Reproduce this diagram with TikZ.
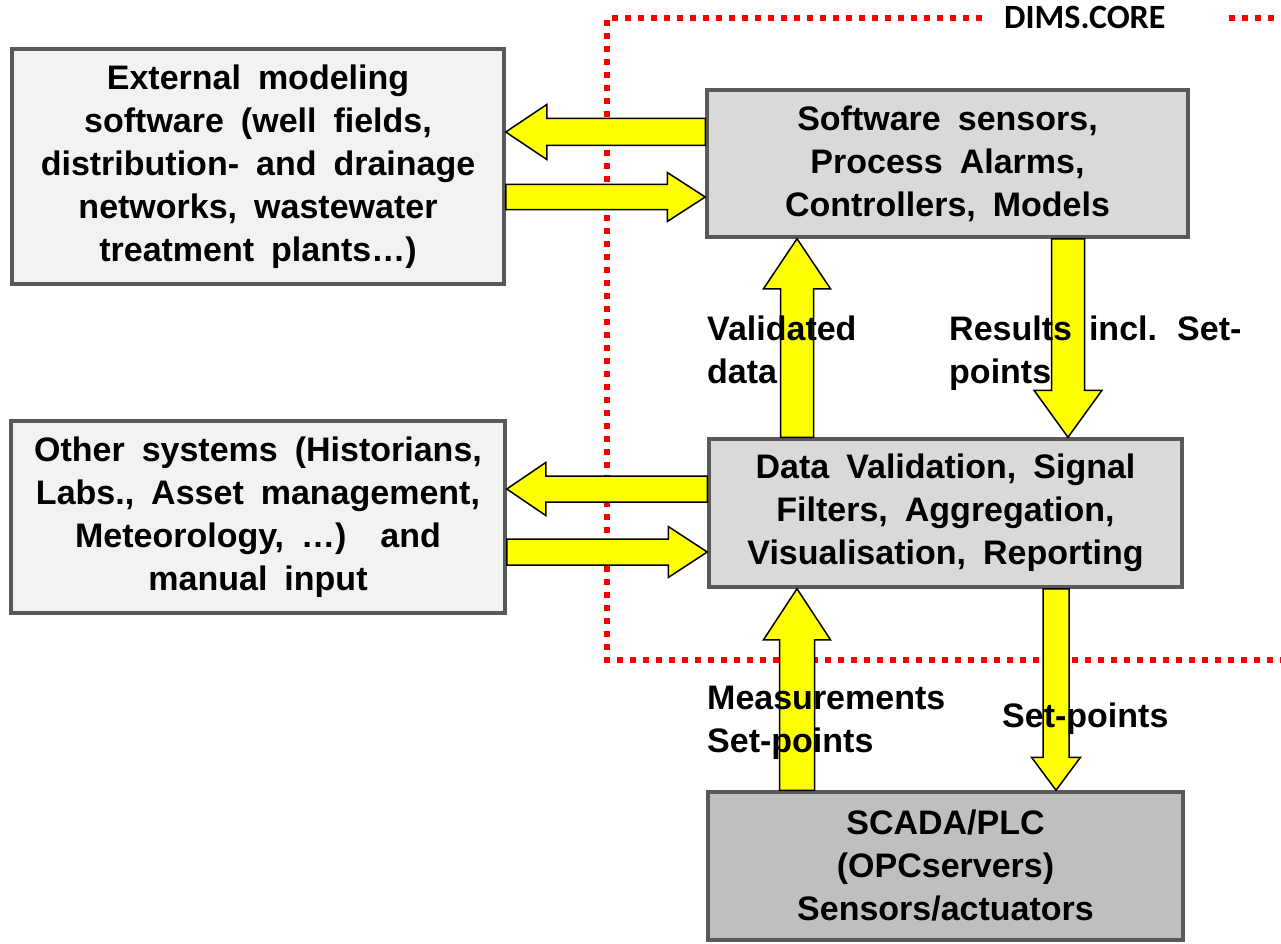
\documentclass[tikz,border=0pt]{standalone}
\usepackage{fontspec}
\setmainfont{Liberation Sans}[WordSpace=1.8]
\newfontfamily\carlito{Carlito}
\usetikzlibrary{calc}

\definecolor{boxline}{HTML}{595959}
\definecolor{paleGray}{HTML}{F2F2F2}
\definecolor{midGray}{HTML}{D9D9D9}
\definecolor{darkGray}{HTML}{BFBFBF}
\definecolor{coreRed}{HTML}{FF0000}
\definecolor{flowYellow}{HTML}{FFFF00}

% Block arrow: #1 tail, #2 tip, #3 half shaft width, #4 half head width, #5 head length
\newcommand\blockarrow[5]{%
  \coordinate (bab) at ($(#2)!#5pt!(#1)$);
  \draw[flow] ($(#1)!#3pt!90:(#2)$) -- ($(bab)!#3pt!90:(#2)$)
    -- ($(bab)!#4pt!90:(#2)$) -- (#2) -- ($(bab)!#4pt!-90:(#2)$)
    -- ($(bab)!#3pt!-90:(#2)$) -- ($(#1)!#3pt!-90:(#2)$) -- cycle;
}

\begin{document}
\begin{tikzpicture}[x=1pt,y=-1pt,
  txt/.style={font=\bfseries\fontsize{34}{43}\selectfont},
  box/.style={txt, draw=boxline, line width=3.5pt, align=center, inner sep=0pt},
  label/.style={txt, align=left, inner sep=0pt, anchor=base west},
  flow/.style={fill=flowYellow, draw=black, line width=1.5pt, line join=miter},
  core/.style={draw=coreRed, line width=5.5pt, dash pattern=on 6pt off 7pt}]
\useasboundingbox (0,0) rectangle (1281,944);

% DIMS.CORE boundary
\draw[core] (982,18) -- (607,18) -- (607,660) -- (1290,660);
\draw[core] (1229,18) -- (1290,18);
\node[font=\carlito\bfseries\fontsize{34}{40}\selectfont, inner sep=0pt, anchor=base west] (core) at (1004,29) {DIMS.CORE};

% Components
\node[box, fill=paleGray, minimum width=492pt, minimum height=235pt] (ext) at (258,166.5)
  {External modeling\\software (well fields,\\distribution- and drainage\\networks, wastewater\\treatment plants…)};
\node[box, fill=midGray, minimum width=481pt, minimum height=147pt] (sw) at (947.5,163.5)
  {Software sensors,\\Process Alarms,\\Controllers, Models};
\node[box, fill=midGray, minimum width=473pt, minimum height=148pt] (dv) at (945.5,513)
  {Data Validation, Signal\\Filters, Aggregation,\\Visualisation, Reporting};
\node[box, fill=paleGray, minimum width=494pt, minimum height=192pt] (oth) at (258,517)
  {Other systems (Historians,\\Labs., Asset management,\\Meteorology, …)~ and\\manual input};
\node[box, fill=darkGray, minimum width=475pt, minimum height=148pt] (scada) at (945.5,866)
  {SCADA/PLC\\(OPCservers)\\Sensors/actuators};

% Flow arrows
\coordinate (a1t) at ($(sw.west)+(0,-31.5)$);   \coordinate (a1p) at (ext.east |- a1t);
\coordinate (a2t) at ($(ext.east)+(0,30.5)$);   \coordinate (a2p) at (sw.west |- a2t);
\coordinate (a3t) at ($(dv.west)+(0,-24)$);     \coordinate (a3p) at (oth.east |- a3t);
\coordinate (a4t) at ($(oth.east)+(0,35)$);     \coordinate (a4p) at (dv.west |- a4t);
\coordinate (a5t) at ($(dv.north)+(-148.5,0)$); \coordinate (a5p) at (sw.south -| a5t);
\coordinate (a6t) at ($(sw.south)+(120.5,0)$);  \coordinate (a6p) at (dv.north -| a6t);
\coordinate (a7t) at ($(scada.north)+(-148.5,0)$); \coordinate (a7p) at (dv.south -| a7t);
\coordinate (a8t) at ($(dv.south)+(110.5,0)$);  \coordinate (a8p) at (scada.north -| a8t);

\blockarrow{a1t}{a1p}{13.5}{27.5}{41}
\blockarrow{a2t}{a2p}{12.5}{24.5}{38}
\blockarrow{a3t}{a3p}{13}{26.5}{39}
\blockarrow{a4t}{a4p}{13}{25.5}{39}
\blockarrow{a5t}{a5p}{16.5}{33.5}{50}
\blockarrow{a6t}{a6p}{16.5}{34}{47}
\blockarrow{a7t}{a7p}{17.5}{33.5}{51}
\blockarrow{a8t}{a8p}{13}{24.5}{33}

% Flow labels
\node[label] (lval) at (707,383) {Validated\\data};
\node[label] (lres) at (949,383) {Results incl. Set-\\points};
\node[label] (lmeas) at (707,752) {Measurements\\Set-points};
\node[label] (lset) at (1002,727) {Set-points};
\end{tikzpicture}
\end{document}
